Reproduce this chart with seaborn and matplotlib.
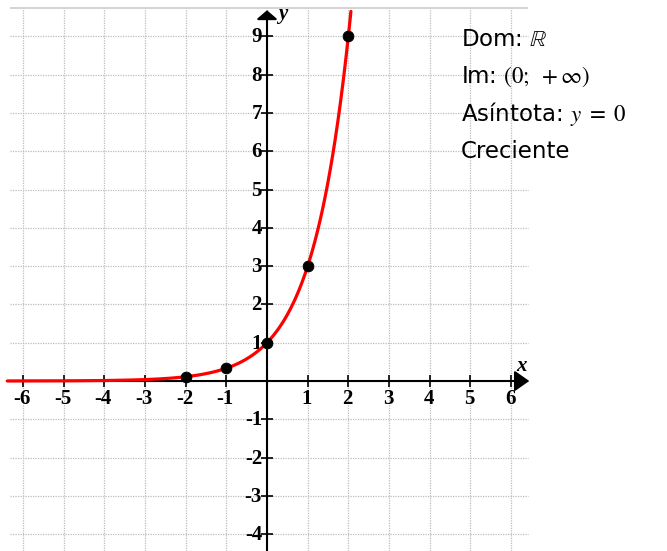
import numpy as np
import pandas as pd
import matplotlib.pyplot as plt
import seaborn as sns

sns.set_style('white')
plt.rcParams['mathtext.fontset'] = 'stix'
plt.rcParams['font.family'] = ['DejaVu Sans']
plt.rcParams['text.color'] = 'black'

# Function y = base^x and the marked points
base = 3
point_x = [-2, -1, 0, 1, 2]
point_y = [1 / 9, 1 / 3, 1, 3, 9]
x_ticks = [-6, -5, -4, -3, -2, -1, 1, 2, 3, 4, 5, 6]
y_ticks = [-4, -3, -2, -1, 1, 2, 3, 4, 5, 6, 7, 8, 9]
info_lines = ['Dom: $\\mathbb{R}$', 'Im: $(0;\\ +\\infty)$',
              'Asíntota: $y\\ =\\ 0$', 'Creciente']

# Layout: pixels per unit and origin location in the 667x551 image
W, H = 667, 551
ox, oy = 267, 381
sx, sy = 40.67, 38.3
xlim = (-6.5, 6.6)
ylim = (-4.45, 9.9)

fig = plt.figure(figsize=(W / 100, H / 100), dpi=100)
left = (ox + xlim[0] * sx) / W
right = (ox + xlim[1] * sx) / W
top = 1 - (oy - ylim[1] * sy) / H
bottom = 1 - (oy - ylim[0] * sy) / H
ax = fig.add_axes([left, bottom, right - left, top - bottom])
ax.set_xlim(*xlim)
ax.set_ylim(*ylim)
ax.axis('off')

# Grid
gx0, gx1, gy1 = -6.33, 6.42, 9.74
ax.hlines(range(-4, 10), gx0, gx1, colors='#bdbdbd', linestyles=(0, (1, 1)), lw=0.9, zorder=1)
ax.vlines(range(-6, 7), ylim[0], gy1, colors='#bdbdbd', linestyles=(0, (1, 1)), lw=0.9, zorder=1)
ax.hlines(gy1, gx0, gx1, colors='#cccccc', lw=1.2, zorder=1)

# Axes with arrows
ax.annotate('', xy=(6.45, 0), xytext=(-6.4, 0),
            arrowprops=dict(arrowstyle='-|>,head_length=0.5,head_width=0.35', lw=1.5,
                            color='black', mutation_scale=18, shrinkA=0, shrinkB=0), zorder=3)
ax.annotate('', xy=(0, 9.68), xytext=(0, ylim[0]),
            arrowprops=dict(arrowstyle='-|>,head_length=0.3,head_width=0.35', lw=1.5,
                            color='black', mutation_scale=18, shrinkA=0, shrinkB=0), zorder=3)

# Tick marks and labels
ax.plot(x_ticks, [0] * len(x_ticks), ls='none', marker='|', ms=8, mew=1.2, color='black', zorder=3)
ax.plot([0] * len(y_ticks), y_ticks, ls='none', marker='_', ms=8, mew=1.2, color='black', zorder=3)
tick_font = dict(family='Liberation Serif', fontweight='bold', fontsize=15)
for t in x_ticks:
    ax.annotate(str(t), (t, 0), xytext=(-1, -18), textcoords='offset pixels',
                ha='center', va='center', **tick_font)
for t in y_ticks:
    ax.annotate(str(t), (0, t), xytext=(-5, -1), textcoords='offset pixels',
                ha='right', va='center', **tick_font)
ax.annotate('x', (6.0, 0), xytext=(10, 15), textcoords='offset pixels', ha='center', va='center',
            family='Liberation Serif', fontweight='bold', style='italic', fontsize=15)
ax.annotate('y', (0, 9.68), xytext=(16, -4), textcoords='offset pixels', ha='center', va='center',
            family='Liberation Serif', fontweight='bold', style='italic', fontsize=15)

# Curve
xs = np.linspace(-6.38, np.log(9.65) / np.log(base), 400)
curve = pd.DataFrame({'x': xs, 'y': base ** xs})
sns.lineplot(data=curve, x='x', y='y', color='red', lw=2.3, ax=ax, zorder=4, sort=False)
pts = pd.DataFrame({'x': point_x, 'y': point_y})
sns.scatterplot(data=pts, x='x', y='y', color='black', s=60, ax=ax, zorder=5, edgecolor='black')

# Info text
for i, line in enumerate(info_lines):
    fig.text(461 / W, 1 - (40 + i * 37) / H, line, fontsize=16.5, ha='left', va='center')

fig.savefig('out.png', dpi=100)
